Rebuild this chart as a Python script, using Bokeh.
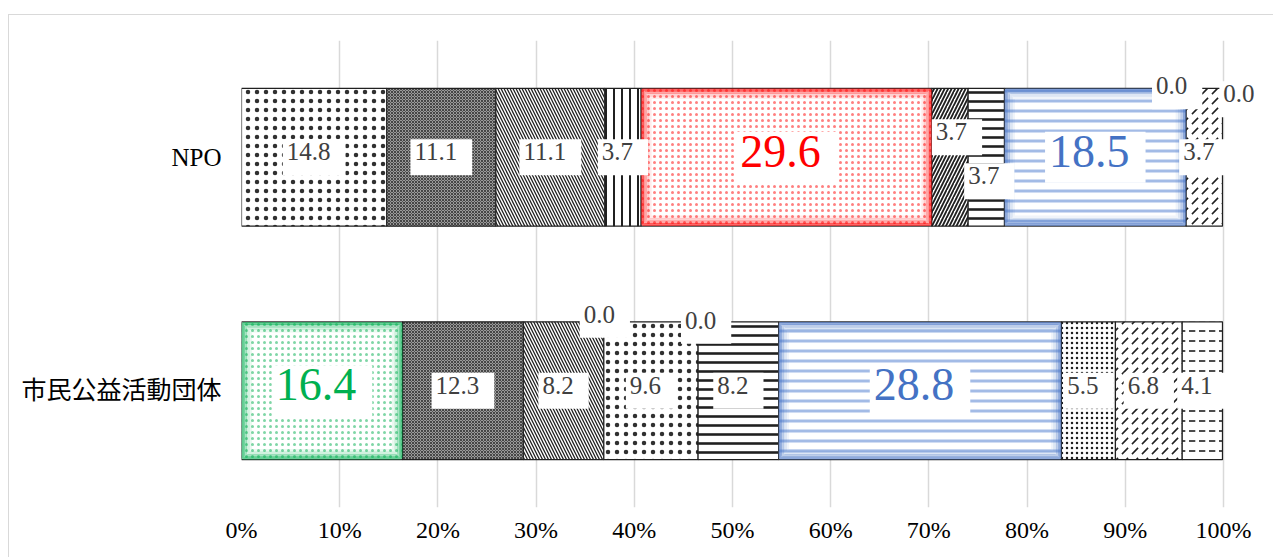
from bokeh.plotting import figure
from bokeh.models import ColumnDataSource, FactorRange, FixedTicker
from bokeh.embed import file_html
from bokeh.resources import INLINE

# ---- data ----
categories = ["NPO", "市民公益活動団体"]
npo_values = [14.8, 11.1, 11.1, 3.7, 29.6, 3.7, 3.7, 18.5, 0.0, 3.7, 0.0]
civic_values = [16.4, 12.3, 8.2, 0.0, 9.6, 0.0, 8.2, 28.8, 5.5, 6.8, 4.1]
x_ticks = [0, 10, 20, 30, 40, 50, 60, 70, 80, 90, 100]
x_tick_labels = ["0%", "10%", "20%", "30%", "40%", "50%", "60%", "70%", "80%", "90%", "100%"]

# highlighted points: (category, series index) -> colour
highlights = {("NPO", 4): "#FF0000", ("市民公益活動団体", 0): "#00B050",
              ("NPO", 7): "#4472C4", ("市民公益活動団体", 7): "#4472C4"}
highlight_hatch = {"#FF0000": "#ff8080", "#00B050": "#7fd6a6", "#4472C4": "#a3bbe6"}

# ---- styles per series: pattern, scale, weight, fill, hatch colour ----
series_styles = [
    (".", 9, 0.5, "white", "#303030"),
    ("x", 3, 0.8, "#9a9a9a", "#303030"),
    ("\\", 6, 1.3, "white", "#202020"),
    ("|", 8, 2.0, "white", "#202020"),
    (".", 9, 0.5, "white", "#303030"),
    ("/", 7, 1.8, "white", "#202020"),
    ("-", 9, 2.6, "white", "#202020"),
    ("-", 10, 3.0, "white", "#a3bbe6"),
    (".", 5, 0.9, "white", "#202020"),
    (",", 10, 1.6, "white", "#202020"),
    ('"', 10, 1.6, "white", "#202020"),
]

# label offsets in screen pixels (layout only)
label_offsets = {("NPO", 5): (7, -20), ("NPO", 6): (3, 24), ("NPO", 8): (-9, -66),
                 ("NPO", 10): (22, -58), ("市民公益活動団体", 3): (1, -71),
                 ("市民公益活動団体", 5): (8, -65)}

value_table = {"NPO": npo_values, "市民公益活動団体": civic_values}

BAR_H = 0.59
PX_X = 9.81     # pixels per percent
PX_Y = 231.5    # pixels per category unit
RIGHT_PAD_PX = 51

bars = dict(y=[], left=[], right=[], fill=[], pat=[], hc=[], hs=[], hw=[], lc=[], lw=[])
glow = dict(y=[], left=[], right=[], h=[], c=[], a=[])
lab_n = dict(x=[], y=[], t=[], dx=[], dy=[])
lab_h = dict(x=[], y=[], t=[], dx=[], dy=[], c=[])

for cat in categories:
    vals = value_table[cat]
    start = 0.0
    for i, v in enumerate(vals):
        end = start + v
        pat, sc, wt, fill, hcol = series_styles[i]
        hl = highlights.get((cat, i))
        if v > 0:
            bars["y"].append(cat)
            bars["left"].append(start)
            bars["right"].append(end)
            if hl:
                bars["fill"].append("#ffffff")
                bars["pat"].append("." if i != 7 else "-")
                bars["hc"].append(highlight_hatch[hl])
                bars["hs"].append(6 if i != 7 else 10)
                bars["hw"].append(1.0 if i != 7 else 3.0)
                bars["lc"].append("#303030")
                bars["lw"].append(1.2)
                for k, a in [(1.5, 0.6), (4, 0.35), (6.5, 0.18), (9, 0.08)]:
                    glow["y"].append(cat)
                    glow["left"].append(start + k / PX_X)
                    glow["right"].append(end - k / PX_X)
                    glow["h"].append(BAR_H - 2 * k / PX_Y)
                    glow["c"].append(hl)
                    glow["a"].append(a)
            else:
                bars["fill"].append(fill)
                bars["pat"].append(pat)
                bars["hc"].append(hcol)
                bars["hs"].append(sc)
                bars["hw"].append(wt)
                bars["lc"].append("#202020")
                bars["lw"].append(1.2)
        dx, dy = label_offsets.get((cat, i), (0, 0))
        target = lab_h if hl else lab_n
        target["x"].append((start + end) / 2)
        target["y"].append(cat)
        target["t"].append(f"{v:.1f}")
        target["dx"].append(dx)
        target["dy"].append(dy)
        if hl:
            target["c"].append(hl)
        start = end

p = figure(width=1265, height=543, output_backend="svg", toolbar_location=None,
           y_range=FactorRange(factors=categories[::-1], range_padding=0),
           x_range=(0, 100 + RIGHT_PAD_PX / PX_X), min_border_left=232, min_border_right=0,
           min_border_top=25, min_border_bottom=51)
p.margin = (14, 0, 0, 8)
p.styles = {"border-top": "1px solid #d9d9d9", "border-left": "1px solid #d9d9d9"}
p.outline_line_color = None
p.background_fill_color = "white"

src = ColumnDataSource(bars)
p.hbar(y="y", left="left", right="right", height=BAR_H, source=src,
       fill_color="fill", hatch_pattern="pat", hatch_color="hc",
       hatch_scale="hs", hatch_weight="hw", line_color="lc", line_width="lw")
p.hbar(y="y", left="left", right="right", height="h", source=ColumnDataSource(glow),
       fill_alpha=0, line_color="c", line_alpha="a", line_width=3)

p.text(x="x", y="y", text="t", x_offset="dx", y_offset="dy", source=ColumnDataSource(lab_n),
       text_align="center", text_baseline="middle", text_color="#404040",
       text_font_size="25px", text_font={"value": "Liberation Serif"},
       background_fill_color="white", padding=[4, 15, 4, 15])
p.text(x="x", y="y", text="t", x_offset="dx", y_offset="dy", source=ColumnDataSource(lab_h),
       text_align="center", text_baseline="middle", text_color="c",
       text_font_size="46px", text_font={"value": "Liberation Serif"},
       background_fill_color="white", padding=[4, 16, 4, 16])

p.xaxis.ticker = FixedTicker(ticks=x_ticks)
p.xaxis.major_label_overrides = {t: l for t, l in zip(x_ticks, x_tick_labels)}
p.xaxis.major_label_text_font = "Liberation Serif"
p.xaxis.major_label_text_font_size = "24px"
p.xaxis.major_label_text_color = "black"
p.xaxis.axis_line_color = None
p.xaxis.major_tick_line_color = None
p.xaxis.minor_tick_line_color = None
p.xaxis.major_label_standoff = 3

p.yaxis.major_label_text_font = "Liberation Serif, 'Noto Sans CJK JP'"
p.yaxis.major_label_text_font_size = "25px"
p.yaxis.major_label_text_color = "black"
p.yaxis.axis_line_color = None
p.yaxis.major_tick_line_color = None
p.yaxis.minor_tick_line_color = None
p.yaxis.major_label_standoff = 14

p.xgrid.grid_line_color = "#d9d9d9"
p.xgrid.grid_line_width = 1.5
p.ygrid.grid_line_color = None

open("out.html", "w").write(file_html(p, INLINE))
